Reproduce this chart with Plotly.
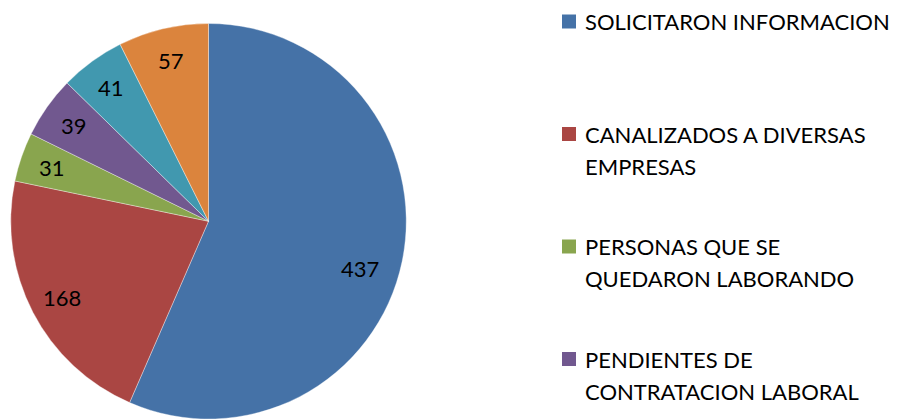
import math
import plotly.graph_objects as go

labels = [
    "SOLICITARON INFORMACION",
    "CANALIZADOS A DIVERSAS<br>EMPRESAS",
    "PERSONAS QUE SE<br>QUEDARON LABORANDO",
    "PENDIENTES DE<br>CONTRATACION LABORAL",
    "CONTRATADOS",
    "OTROS",
]
values = [437, 168, 31, 39, 41, 57]
colors = ["#4572A7", "#AA4643", "#89A54E", "#71588F", "#4198AF", "#DB843D"]

W, H = 901, 419
FONT = "Lato, 'Open Sans', sans-serif"

# pie geometry (pixels)
dom_x0, dom_x1 = 10, 407
dom_top = 23.5
radius = min(dom_x1 - dom_x0, H - dom_top) / 2
cx = (dom_x0 + dom_x1) / 2
cy = dom_top + radius

fig = go.Figure(go.Pie(
    labels=[l.replace("<br>", " ") for l in labels],
    values=values,
    sort=False,
    direction="clockwise",
    rotation=0,
    marker=dict(colors=colors, line=dict(color="rgba(255,255,255,0.6)", width=0.6)),
    textinfo="none",
    hoverinfo="label+value",
    domain=dict(x=[dom_x0 / W, dom_x1 / W], y=[0, 1 - dom_top / H]),
    showlegend=False,
))

annotations = []
shapes = []
total = sum(values)
cum = 0
for v in values:
    frac = v / total
    mid = (cum + v / 2) / total * 2 * math.pi
    cum += v
    # large slices: label sits a bit further clockwise/inward (Excel best fit)
    if frac > 0.5:
        mid += math.radians(5.5)
        r = 0.80 * radius
    else:
        r = 0.835 * radius
    px = cx + r * math.sin(mid)
    py = cy - r * math.cos(mid)
    annotations.append(dict(
        x=px / W, y=1 - py / H, xref="paper", yref="paper",
        text=str(v), showarrow=False, xanchor="center", yanchor="middle",
        font=dict(family=FONT, size=22, color="#000000"),
    ))

# legend (custom, Excel style)
leg_first = 21.5
leg_step = 112.5
line_gap = 32
sq = 14
sq_x0 = 562
txt_x = 583
for i, (lab, col) in enumerate(zip(labels, colors)):
    y1 = leg_first + i * leg_step
    if y1 > H:
        continue
    shapes.append(dict(
        type="rect", xref="paper", yref="paper",
        x0=sq_x0 / W, x1=(sq_x0 + sq) / W,
        y0=1 - (y1 + sq / 2) / H, y1=1 - (y1 - sq / 2) / H,
        fillcolor=col, line=dict(width=0),
    ))
    for j, part in enumerate(lab.split("<br>")):
        ly = y1 + j * line_gap
        annotations.append(dict(
            x=txt_x / W, y=1 - ly / H, xref="paper", yref="paper",
            text=part, showarrow=False, xanchor="left", yanchor="middle",
            font=dict(family=FONT, size=22, color="#000000"),
        ))

fig.update_layout(
    width=W, height=H,
    margin=dict(l=0, r=0, t=0, b=0),
    paper_bgcolor="white",
    plot_bgcolor="white",
    annotations=annotations,
    shapes=shapes,
)

fig.write_html(
    "out.html",
    config={"displayModeBar": False},
    post_script="document.body.style.margin='0';document.body.style.overflow='hidden';",
)
